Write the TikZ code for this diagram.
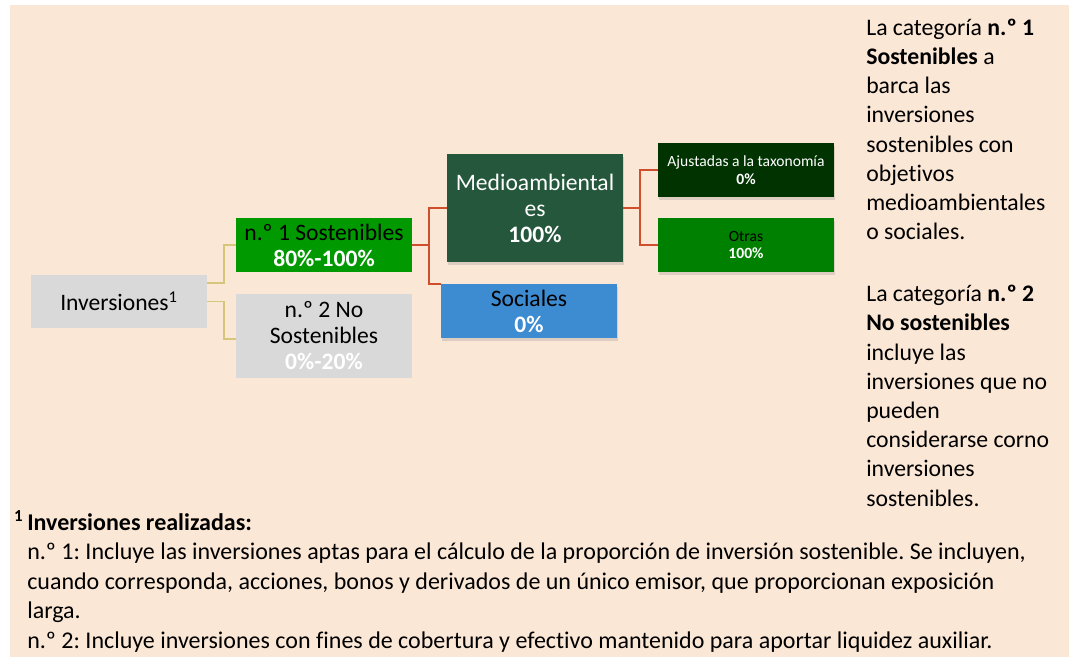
\documentclass[tikz,border=0pt]{standalone}
\usepackage{fontspec}
\setmainfont{Carlito}[Ligatures=NoCommon]
\usetikzlibrary{shadows}
\definecolor{pagebg}{HTML}{FBE7D6}
\definecolor{boxgrey}{HTML}{D9D9D9}
\definecolor{sosgreen}{HTML}{009900}
\definecolor{mediogreen}{HTML}{24573B}
\definecolor{ajusgreen}{HTML}{003300}
\definecolor{otrasgreen}{HTML}{008000}
\definecolor{socblue}{HTML}{3D8BD0}
\definecolor{invline}{HTML}{D5C67C}
\definecolor{sosline}{HTML}{CF4E2C}
\tikzset{
  box/.style={minimum width=132pt, inner sep=0pt, align=center,
              font=\fontsize{17.7}{19.5}\selectfont},
  greybox/.style={box, fill=boxgrey},
  shbox/.style={box, drop shadow={shadow xshift=1pt, shadow yshift=-2pt, opacity=0.25}},
  smallbox/.style={shbox, font=\fontsize{11.7}{13}\selectfont},
  invlink/.style={draw=invline, line width=1.4pt},
  soslink/.style={draw=sosline, line width=1.8pt},
  sidetext/.style={align=left, anchor=base west, inner sep=0pt,
                   font=\fontsize{17.8}{21.9}\selectfont\frenchspacing},
  foottext/.style={align=left, anchor=base west, inner sep=0pt,
                   font=\fontsize{18}{22.1}\selectfont\frenchspacing},
}

\begin{document}
\begin{tikzpicture}[x=0.75pt, y=-0.75pt]
  \useasboundingbox (0,0) rectangle (1069,657);
  \fill[pagebg] (10,5) rectangle (1069,657);
  % arbol de inversiones
  \node[greybox, minimum height=39.75pt] (inv) at (119,301.5) {Inversiones\textsuperscript{1}};
  \node[box, fill=sosgreen, minimum height=40.5pt] (sos) at (324,245)
    {n.º 1 Sostenibles\\\textcolor{white}{\textbf{80\%-100\%}}};
  \node[greybox, minimum height=63pt] (nosos) at (324,336)
    {n.º 2 No\\Sostenibles\\\textcolor{white}{\textbf{0\%-20\%}}};
  \node[shbox, fill=mediogreen, text=white, minimum height=81pt] (medio) at (535,208)
    {Medioambiental\\es\\\textbf{100\%}};
  \node[shbox, fill=socblue, minimum height=40.5pt] (soc) at (529,311)
    {Sociales\\\textcolor{white}{\textbf{0\%}}};
  \node[smallbox, fill=ajusgreen, text=white, minimum height=40.5pt] (ajus) at (746,170)
    {Ajustadas a la taxonomía\\\textbf{0\%}};
  \node[smallbox, fill=otrasgreen, minimum height=40.5pt] (otras) at (746,245)
    {Otras\\\textcolor{white}{\textbf{100\%}}};
  % conectores
  \draw[invlink] ([yshift=13.9pt]inv.east) -- ++(17,0) |- (sos.west);
  \draw[invlink] (inv.east) -- ++(17,0) |- ([yshift=-2.25pt]nosos.west);
  \draw[soslink] (sos.east) -- ++(17,0) coordinate (sosfork) |- (medio.west);
  \draw[soslink] (sosfork) |- (soc.north west);
  \draw[soslink] (medio.east) -- ++(17,0) coordinate (mediofork) |- (ajus.west);
  \draw[soslink] (mediofork) |- (otras.west);
  % texto lateral (base = ultima linea)
  \node[sidetext] (nota) at (866,506) {La categoría \textbf{n.º 1}\\\textbf{Sostenibles} a\\barca las\\
    inversiones\\sostenibles con\\objetivos\\medioambientales\\o sociales.\\[24.6pt]
    La categoría \textbf{n.º 2}\\\textbf{No sostenibles}\\incluye las\\inversiones que no\\
    pueden\\considerarse corno\\inversiones\\sostenibles.};
  % nota al pie
  \node[foottext] (pie) at (27,648) {\llap{\textbf{\textsuperscript{1}\,}}\textbf{Inversiones realizadas:}\\
    n.º 1: Incluye las inversiones aptas para el cálculo de la proporción de inversión sostenible. Se incluyen,\\
    cuando corresponda, acciones, bonos y derivados de un único emisor, que proporcionan exposición\\
    larga.\\
    n.º 2: Incluye inversiones con fines de cobertura y efectivo mantenido para aportar liquidez auxiliar.};
\end{tikzpicture}
\end{document}
